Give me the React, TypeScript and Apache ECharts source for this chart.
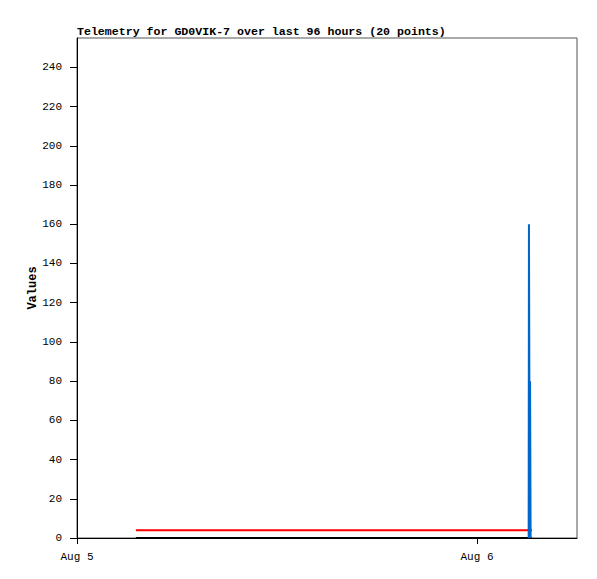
import React, { useEffect, useRef } from "react";
import * as echarts from "echarts";

const TITLE = "Telemetry for GD0VIK-7 over last 96 hours (20 points)";
const Y_AXIS_NAME = "Values";
const Y_TICKS = [0, 20, 40, 60, 80, 100, 120, 140, 160, 180, 200, 220, 240];
const X_TICK_DAYS = [5, 6];
const X_TICK_LABELS = ["Aug 5", "Aug 6"];

// [day of August, hour, minute] and value
const RED_TIMES: [number, number, number][] = [
  [5, 3, 32], [5, 7, 40], [5, 11, 55], [5, 16, 10], [5, 20, 25], [6, 0, 40], [6, 2, 50], [6, 3, 18],
];
const RED_VALUES = [4, 4, 4, 4, 4, 4, 4, 4];
const BLACK_TIMES: [number, number, number][] = [
  [5, 3, 32], [5, 9, 0], [5, 14, 20], [5, 19, 45], [6, 1, 5], [6, 3, 0], [6, 3, 18],
];
const BLACK_VALUES = [0, 0, 0, 0, 0, 0, 0];
const BLUE_TIMES: [number, number, number][] = [
  [6, 3, 6], [6, 3, 7], [6, 3, 10], [6, 3, 11], [6, 3, 13],
];
const BLUE_VALUES = [0, 160, 0, 80, 0];

const t = (d: number, h = 0, m = 0) => Date.UTC(2023, 7, d, h, m);
const pts = (times: [number, number, number][], vals: number[]) =>
  times.map((tm, i) => [t(tm[0], tm[1], tm[2]), vals[i]]);

const FONT = "'Liberation Mono', 'DejaVu Sans Mono', monospace";

export default function App() {
  const ref = useRef<HTMLDivElement>(null);
  useEffect(() => {
    if (!ref.current) return;
    const chart = echarts.init(ref.current, undefined, { renderer: "svg" });
    const xTicks = X_TICK_DAYS.map((d) => t(d));
    chart.setOption({
      animation: false,
      backgroundColor: "#fff",
      title: {
        text: TITLE,
        left: 77,
        top: 25,
        padding: 0,
        textStyle: { fontFamily: FONT, fontSize: 11.6, fontWeight: "bold", color: "#000" },
      },
      grid: {
        left: 77,
        top: 38,
        right: 20,
        bottom: 41,
        show: true,
        borderColor: "#555",
        borderWidth: 1,
        backgroundColor: "transparent",
      },
      xAxis: {
        type: "value",
        min: t(5),
        max: t(6, 6),
        axisLine: { lineStyle: { color: "#000", width: 1 } },
        axisTick: { show: true, length: 6, lineStyle: { color: "#000" }, customValues: xTicks },
        axisLabel: {
          customValues: xTicks,
          margin: 13,
          fontFamily: FONT,
          fontSize: 11,
          color: "#000",
          formatter: (v: number) => {
            const idx = xTicks.indexOf(v);
            return idx >= 0 ? X_TICK_LABELS[idx] : "";
          },
        },
        splitLine: { show: false },
      },
      yAxis: {
        type: "value",
        min: 0,
        max: 255,
        name: Y_AXIS_NAME,
        nameLocation: "middle",
        nameRotate: 90,
        nameGap: 38,
        nameMoveOverlap: false,
        nameTextStyle: { fontFamily: FONT, fontSize: 12, fontWeight: "bold", color: "#000" },
        axisLine: { show: true, lineStyle: { color: "#000", width: 1 } },
        axisTick: { show: true, length: 7, lineStyle: { color: "#000" }, customValues: Y_TICKS },
        axisLabel: {
          customValues: Y_TICKS,
          margin: 15,
          fontFamily: FONT,
          fontSize: 11,
          color: "#000",
        },
        splitLine: { show: false },
      },
      series: [
        {
          type: "line",
          data: pts(BLACK_TIMES, BLACK_VALUES),
          showSymbol: false,
          clip: false,
          lineStyle: { color: "#000", width: 2 },
          z: 2,
        },
        {
          type: "line",
          data: pts(RED_TIMES, RED_VALUES),
          showSymbol: false,
          lineStyle: { color: "#ff0000", width: 2 },
          z: 3,
        },
        {
          type: "line",
          data: pts(BLUE_TIMES, BLUE_VALUES),
          showSymbol: false,
          clip: false,
          lineStyle: { color: "#0066cc", width: 2 },
          z: 4,
        },
      ],
    });
    return () => chart.dispose();
  }, []);
  return (
    <div
      ref={ref}
      style={{ position: "fixed", left: 0, top: 0, width: 597, height: 579, background: "#fff" }}
    />
  );
}
